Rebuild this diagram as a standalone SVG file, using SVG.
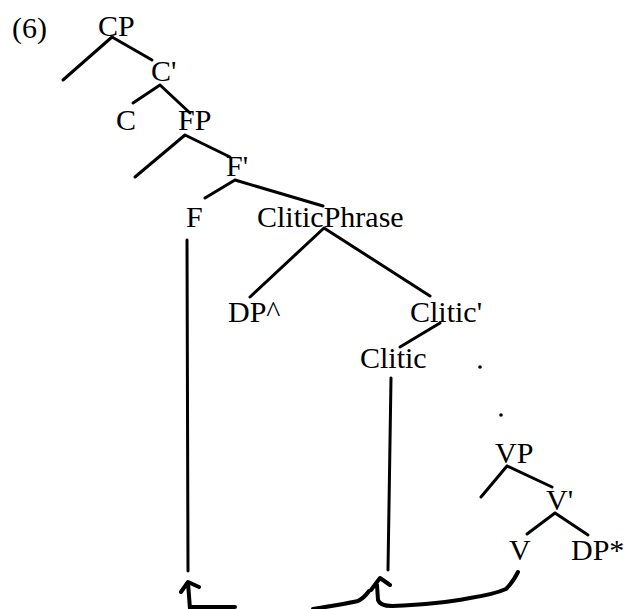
<svg xmlns="http://www.w3.org/2000/svg" width="626" height="609" viewBox="0 0 626 609">
<style>
text{font-family:"Liberation Serif","Times New Roman",serif;font-size:30px;fill:#000}
.e{stroke:#000;stroke-width:3;stroke-linecap:round;fill:none}
.m{stroke:#000;stroke-width:4;stroke-linecap:round;stroke-linejoin:round;fill:none}
</style>
<rect width="626" height="609" fill="#fff"/>
<text x="12" y="38">(6)</text>
<g id="CP"><text x="98" y="36">CP</text></g>
<g id="Cbar"><text x="151" y="81">C'</text></g>
<g id="C"><text x="116" y="130">C</text></g>
<g id="FP"><text x="178" y="130">FP</text></g>
<g id="Fbar"><text x="226" y="176">F'</text></g>
<g id="F"><text x="186" y="227">F</text></g>
<g id="CliticPhrase"><text x="257" y="227">CliticPhrase</text></g>
<g id="DP_hat"><text x="228" y="322">DP^</text></g>
<g id="Clitic_bar"><text x="410" y="322">Clitic'</text></g>
<g id="Clitic"><text x="360" y="368">Clitic</text></g>
<g id="VP"><text x="495" y="463">VP</text></g>
<g id="Vbar"><text x="546" y="510">V'</text></g>
<g id="V"><text x="509" y="560">V</text></g>
<g id="DP_star"><text x="571" y="560">DP*</text></g>
<g id="dots">
<circle cx="480" cy="367" r="1.8"/>
<circle cx="501" cy="415" r="1.8"/>
</g>
<g id="connectors">
<path class="e" d="M112 37L63 80M112 37L152 60"/>
<path class="e" d="M160 85L133 103M160 85L190 113"/>
<path class="e" d="M185 135L135 177M185 135L230 157"/>
<path class="e" d="M235 180L205 198M235 180L323 206"/>
<path class="e" d="M324 228L250 297M324 228L430 296"/>
<path class="e" d="M440 323L400 347"/>
<path class="e" d="M507 466L481 497M507 466L552 487"/>
<path class="e" d="M555 513L527 534M555 513L588 535"/>
<path class="e" d="M187 240L188 571"/>
<path class="e" d="M391 378L388 570"/>
<path class="m" d="M181 592L188 582L199 587M188 583L190 609M190 607L235 607"/>
<path class="m" d="M313 609Q345 604 358 601Q364 598 369 591"/>
<path class="m" d="M371 590L380 578L390 585M377 585L378 600Q380 606 392 606Q440 604 470 598Q495 594 506 589Q513 582 518 572"/>
</g>
</svg>
